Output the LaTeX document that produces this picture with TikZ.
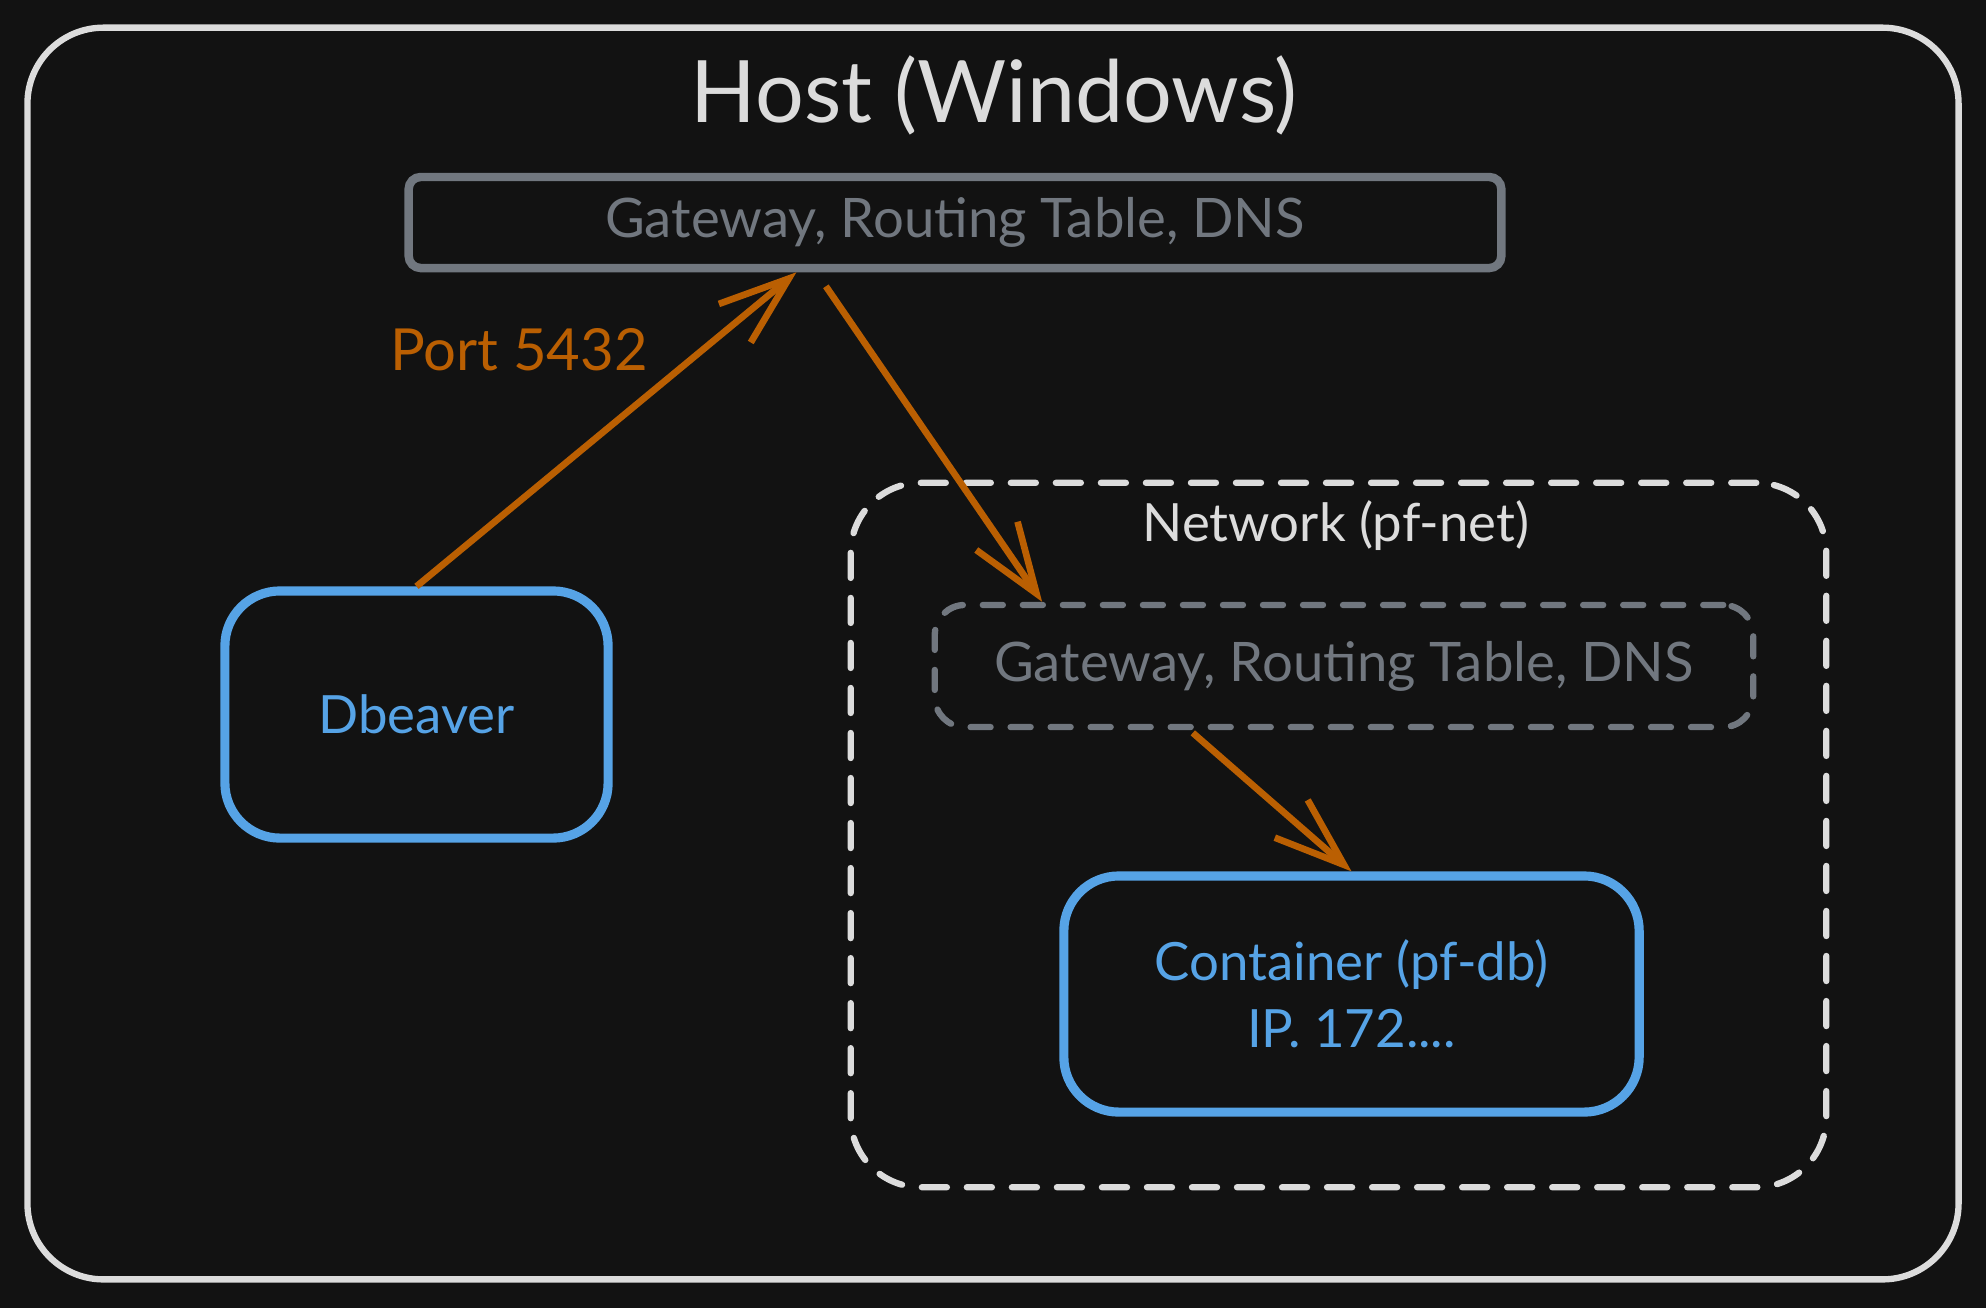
\documentclass[tikz,border=0pt]{standalone}
\usepackage{fontspec}
\setmainfont{Lato}
\usepackage{xcolor}
\usepackage{tikz}
\usetikzlibrary{
  arrows.meta,
  calc,
  positioning
}
\definecolor{bgdark}{HTML}{121212}
\definecolor{hostline}{HTML}{DCDCDC}
\definecolor{gwgray}{HTML}{71777F}
\definecolor{dbblue}{HTML}{56A3E6}
\definecolor{portorange}{HTML}{BA5F02}
\tikzset{
  hostbox/.style={
    draw=hostline,
    line width=1.8pt,
    rounded corners=0.76cm},
  gwbox/.style={
    draw=gwgray,
    line width=2.4pt,
    rounded corners=0.12cm,
    text=gwgray,
    font=\fontsize{15.5}{18}\selectfont},
  appbox/.style={
    draw=dbblue,
    line width=2.6pt,
    rounded corners=0.55cm,
    text=dbblue,
    align=center,
    font=\fontsize{15}{19}\selectfont},
  netbox/.style={
    draw=hostline,
    line width=1.8pt,
    line cap=round,
    dash pattern=on 0.25cm off 0.2cm,
    rounded corners=0.7cm},
  flow/.style={
    -{Straight Barb[length=0.7cm,width=0.5cm]},
    draw=portorange,
    line width=1.9pt}
  }
\begin{document}
\begin{tikzpicture}[x=0.01cm,y=-0.01cm]
		\fill [bgdark] (0,0) rectangle (1986,1308);
		\node (host) [hostbox, minimum width=19.3cm, minimum height=12.51cm] at (993,653.5) {};
		\node (title) [text=hostline, font=\fontsize{24.5}{28}\selectfont] at (994,95) {Host (Windows)};
		\node (gw) [gwbox, minimum width=10.92cm, minimum height=0.91cm] at (955,222.5) {Gateway, Routing Table, DNS};
		\node (port) [text=portorange, font=\fontsize{16.5}{18}\selectfont] at (519,350) {Port 5432};
		\node (dbeaver) [appbox, minimum width=3.83cm, minimum height=2.47cm] at (416.5,714.5) {Dbeaver};
		\node (net) [netbox, minimum width=9.75cm, minimum height=7.04cm] at (1338.5,835) {};
		\node (netlabel) [text=hostline, font=\fontsize{15}{18}\selectfont] at (1336,526) {Network (pf-net)};
		\node (netgw) [gwbox, line width=1.8pt, line cap=round, dash pattern=on 0.2cm off 0.2cm, rounded corners=0.3cm, minimum width=8.18cm, minimum height=1.22cm] at (1344,666) {Gateway, Routing Table, DNS};
		\node (ctr) [appbox, minimum width=5.75cm, minimum height=2.36cm] at (1351.5,994) {Container (pf-db)\\IP. 172....};
		% hand-off points along the gateway edges
		\coordinate (gwin) at ($(gw.south west)!0.356!(gw.south east)$);
		\coordinate (gwout) at ($(gw.south west)!0.374!(gw.south east)$);
		\coordinate (netgwin) at ($(netgw.north west)!0.134!(netgw.north east)$);
		\coordinate (netgwout) at ($(netgw.south west)!0.313!(netgw.south east)$);
		\draw [flow] (dbeaver.north) to (gwin);
		\draw [flow, shorten <=0.17cm] (gwout) to (netgwin);
		\draw [flow, shorten <=0.04cm] (netgwout) to (ctr.north);
	\end{tikzpicture}
\end{document}
